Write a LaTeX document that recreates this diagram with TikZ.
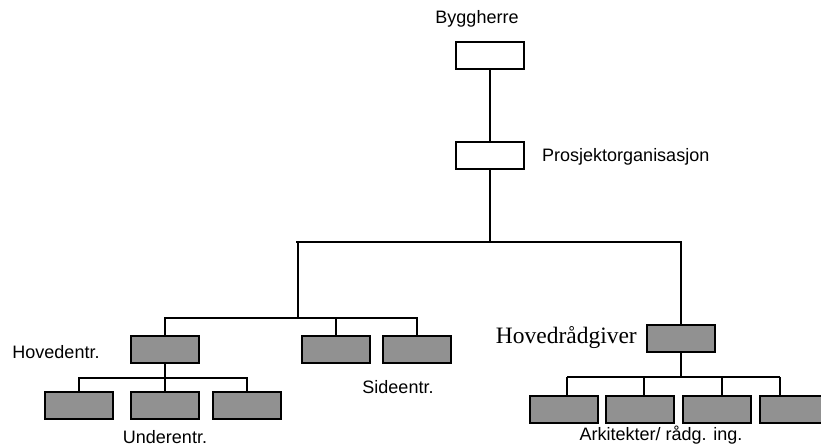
\documentclass[tikz,border=0pt]{standalone}
\usepackage{fontspec}
\setmainfont{Liberation Serif}
\setsansfont{Liberation Sans}
\definecolor{boxgray}{RGB}{145,145,145}
\tikzset{
  org/.style={draw, line width=2pt, minimum width=68pt, minimum height=27pt, inner sep=0pt},
  grey/.style={org, fill=boxgray},
  lbl/.style={font=\sffamily\fontsize{18}{20}\selectfont, inner sep=0pt},
  link/.style={line width=1.7pt}
}
\begin{document}
\begin{tikzpicture}[x=1pt,y=-1pt]
\useasboundingbox (0,0) rectangle (821,446);
\node[org] (bh) at (490,56) {};
\node[org] (po) at (490,156) {};
\node[grey] (he) at (165,349) {};
\node[grey] (ue1) at (79,405) {};
\node[grey] (ue2) at (165,405) {};
\node[grey] (ue3) at (247,405) {};
\node[grey] (sd1) at (336,349) {};
\node[grey] (sd2) at (417,349) {};
\node[grey] (hr) at (681,338.5) {};
\node[grey] (ar1) at (564,409) {};
\node[grey] (ar2) at (640,409) {};
\node[grey] (ar3) at (717,409) {};
\node[grey] (ar4) at (794,409) {};
\node[lbl] (bhtxt) at (477,19) {Byggherre};
\node[lbl, anchor=west] (potxt) at (542,157) {Prosjektorganisasjon};
\node[lbl] (hetxt) at (56,352) {Hovedentr.};
\node[lbl] (uetxt) at (165,437) {Underentr.};
\node[lbl] (sdtxt) at (398,387) {Sideentr.};
\node[font=\fontsize{23.5}{26}\selectfont, inner sep=0pt, anchor=east] (hrtxt) at (637,338) {Hovedrådgiver};
\node[lbl] (artxt) at (661,435) {Arkitekter/ rådg. ing.};
\coordinate (mainL) at (296,242);
\coordinate (jl) at (298,242);
\coordinate (entr) at (0,318);
\coordinate (uef) at (0,378);
\coordinate (arf) at (0,377);
\coordinate (a1) at (567,377);
\coordinate (a2) at (644,377);
\coordinate (a3) at (722,377);
\coordinate (a4) at (780,377);
\draw[link] (bh) -- (po);
\draw[link] (po.south) -- (po.south |- mainL);
\draw[link] (mainL) -- (mainL -| hr.north) -- (hr.north);
\draw[link] (jl) -- (jl |- entr);
\draw[link] (he.north) -- (he.north |- entr) -- (sd2.north |- entr) -- (sd2.north);
\draw[link] (sd1.north) -- (sd1.north |- entr);
\draw[link] (he.south) -- (ue2.north);
\draw[link] (ue1.north) -- (ue1.north |- uef) -- (ue3.north |- uef) -- (ue3.north);
\draw[link] (hr.south) -- (hr.south |- arf);
\draw[link] (a1) -- (a4);
\draw[link] (a1) -- (a1 |- ar1.north);
\draw[link] (a2) -- (a2 |- ar2.north);
\draw[link] (a3) -- (a3 |- ar3.north);
\draw[link] (a4) -- (a4 |- ar4.north);
\end{tikzpicture}
\end{document}
